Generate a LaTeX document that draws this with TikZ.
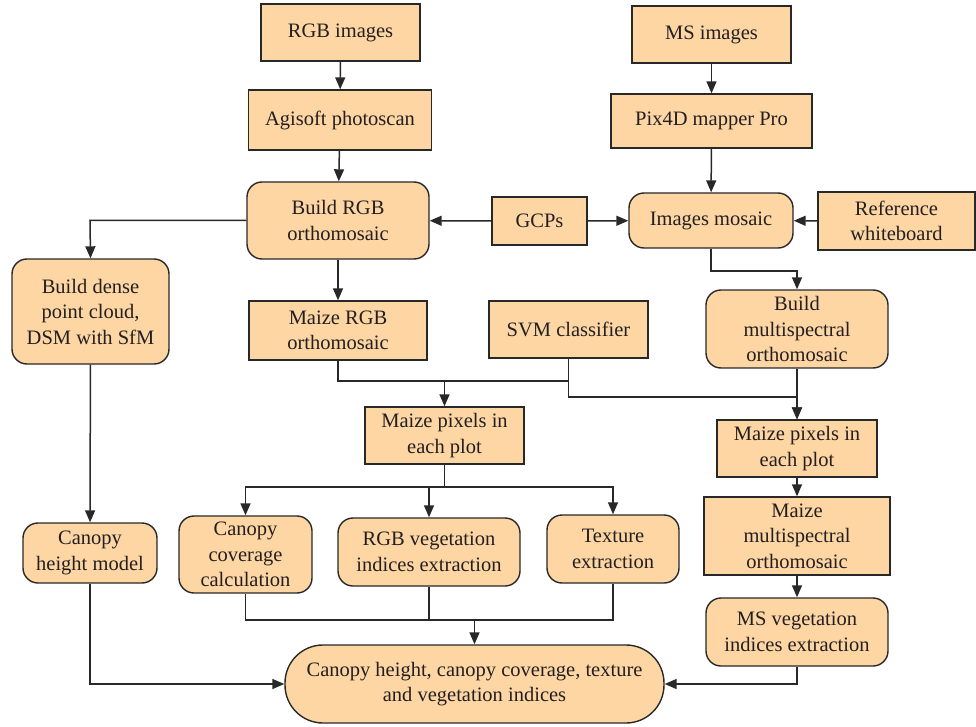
\documentclass[tikz,border=0pt]{standalone}
\usepackage{fontspec}
\setmainfont{Liberation Serif}
\usetikzlibrary{arrows.meta}
\definecolor{boxfill}{RGB}{253,214,164}
\definecolor{boxline}{RGB}{40,40,40}
\tikzset{
  box/.style={draw=boxline, fill=boxfill, line width=1.4pt, align=center, inner sep=0pt,
    font=\fontsize{20.5}{25.5}\selectfont, text={rgb,255:red,35;green,31;blue,32}},
  rbox/.style={box, rounded corners=15pt},
  conn/.style={draw=boxline, line width=1.5pt},
  arr/.style={conn, -{Triangle[length=12pt,width=10pt]}}
}
\begin{document}
\begin{tikzpicture}[x=1pt,y=-1pt]
\useasboundingbox (0,0) rectangle (976,727);
% top left chain
\node[box, minimum width=159pt, minimum height=57pt] (rgb) at (340.5,32.5) {RGB images};
\node[box, minimum width=183pt, minimum height=60pt] (agi) at (340,120) {Agisoft photoscan};
\node[rbox, minimum width=182pt, minimum height=77pt] (brgb) at (338,220.5) {Build RGB\\orthomosaic};
\node[box, minimum width=95pt, minimum height=48pt] (gcp) at (539.5,221) {GCPs};
% top right chain
\node[box, minimum width=159pt, minimum height=57pt] (msi) at (711.5,34.5) {MS images};
\node[box, minimum width=201pt, minimum height=54pt] (pix) at (711.5,121) {Pix4D mapper Pro};
\node[rbox, minimum width=164pt, minimum height=55pt] (mos) at (711,220.5) {Images mosaic};
\node[box, minimum width=157pt, minimum height=58pt] (ref) at (896.5,221) {Reference\\whiteboard};
% second row
\node[rbox, minimum width=157pt, minimum height=105pt] (dense) at (90.5,311.5) {Build dense\\point cloud,\\DSM with SfM};
\node[box, minimum width=178pt, minimum height=59pt] (mrgb) at (338,330.5) {Maize RGB\\orthomosaic};
\node[box, minimum width=159pt, minimum height=57pt] (svm) at (568.5,329.5) {SVM classifier};
\node[rbox, minimum width=182pt, minimum height=78pt] (bms) at (797,329) {Build\\multispectral\\orthomosaic};
% pixels
\node[box, minimum width=159pt, minimum height=57pt] (mp1) at (444.5,435.5) {Maize pixels in\\each plot};
\node[box, minimum width=160pt, minimum height=57pt] (mp2) at (797,448.5) {Maize pixels in\\each plot};
\node[box, minimum width=186pt, minimum height=78pt] (mms) at (797,536) {Maize\\multispectral\\orthomosaic};
\node[rbox, minimum width=182pt, minimum height=68pt] (msv) at (797,632) {MS vegetation\\indices extraction};
% lower row
\node[rbox, minimum width=134pt, minimum height=60pt] (chm) at (90,553) {Canopy\\height model};
\node[rbox, minimum width=133pt, minimum height=77pt] (ccc) at (245.5,554.5) {Canopy\\coverage\\calculation};
\node[rbox, minimum width=182pt, minimum height=68pt] (rgbv) at (429,552) {RGB vegetation\\indices extraction};
\node[rbox, minimum width=132pt, minimum height=68pt] (tex) at (613,549) {Texture\\extraction};
\node[box, rounded corners=38pt, minimum width=379pt, minimum height=78pt] (fin) at (474.5,684) {Canopy height, canopy coverage, texture\\and vegetation indices};
% junctions
\coordinate (j0) at (90,220.5);
\coordinate (jm) at (711,271);
\coordinate (j1) at (444.5,381);
\coordinate (j2) at (568.5,397);
\coordinate (j3) at (444.5,487);
\coordinate (j4) at (474.5,620);
% connectors
\draw[arr] (rgb) -- (agi);
\draw[arr] (agi) -- (brgb);
\draw[arr] (gcp) -- (brgb);
\draw[arr] (gcp) -- (mos);
\draw[arr] (msi) -- (pix);
\draw[arr] (pix) -- (mos);
\draw[arr] (ref) -- (mos);
\draw[arr] (brgb.west) -- (j0) -- (dense.north);
\draw[arr] (brgb) -- (mrgb);
\draw[arr] (mos.south) -- (jm) -| (bms.north);
\draw[arr] (mrgb.south) |- (j1) -- (mp1.north);
\draw[conn] (svm.south) |- (j1);
\draw[arr] (svm.south) -- (j2) -| (mp2.north);
\draw[arr] (bms) -- (mp2);
\draw[arr] (mp2) -- (mms);
\draw[arr] (mms) -- (msv);
\draw[conn] (mp1.south) -- (j3);
\draw[arr] (j3) -| (ccc.north);
\draw[arr] (j3) -| (tex.north);
\draw[arr] (rgbv.north |- j3) -- (rgbv.north);
\draw[arr] (dense) -- (chm);
\draw[arr] (chm.south) |- (fin.west);
\draw[arr] (msv.south) |- (fin.east);
\draw[conn] (ccc.south) |- (j4);
\draw[conn] (tex.south) |- (j4);
\draw[conn] (rgbv.south) -- (rgbv.south |- j4);
\draw[arr] (j4) -- (fin.north);
\end{tikzpicture}
\end{document}
